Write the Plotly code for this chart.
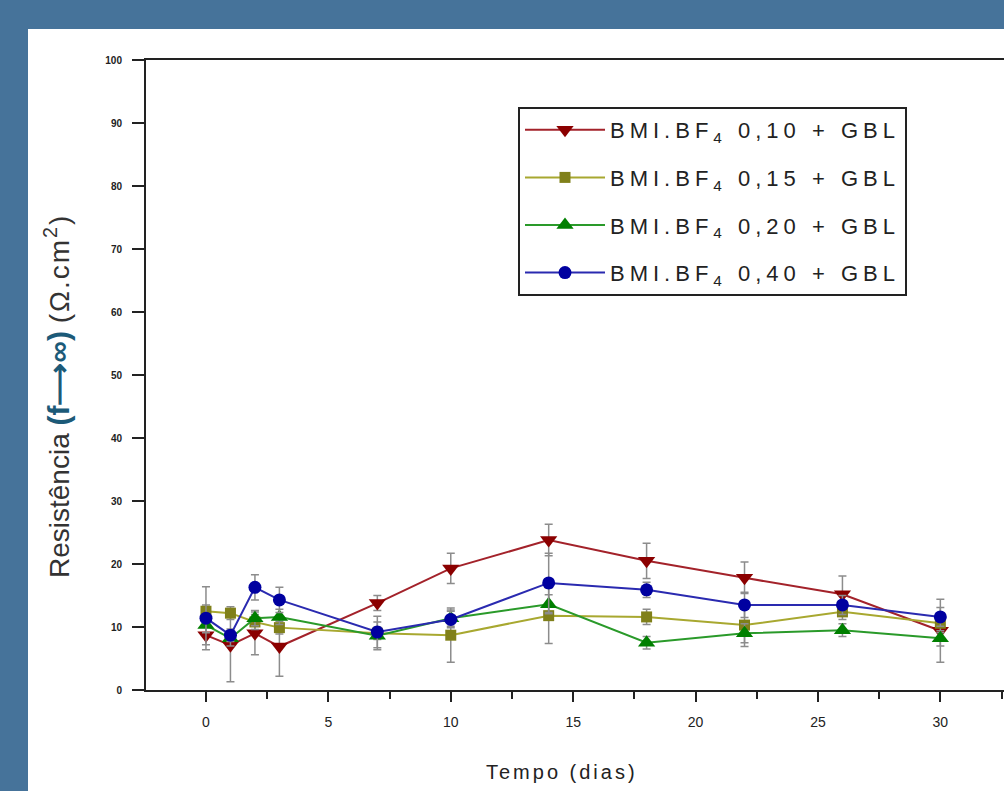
import plotly.graph_objects as go

days = [0, 1, 2, 3, 7, 10, 14, 18, 22, 26, 30]

r010 = [8.7, 7.1, 9.0, 6.9, 13.8, 19.3, 23.8, 20.5, 17.8, 15.2, 9.4]
r010_err = [1.5, 5.8, 3.4, 4.7, 1.2, 2.4, 2.5, 2.8, 2.5, 2.9, 5.0]

r015 = [12.5, 12.2, 10.8, 9.9, 9.0, 8.7, 11.8, 11.6, 10.3, 12.4, 10.6]
r015_err = [1.0, 1.0, 1.2, 1.0, 1.0, 4.3, 4.4, 1.2, 3.4, 1.2, 1.5]

r020 = [10.3, 8.2, 11.4, 11.6, 8.6, 11.4, 13.6, 7.5, 9.0, 9.5, 8.2]
r020_err = [1.2, 1.2, 1.2, 1.2, 2.2, 1.3, 1.5, 1.0, 1.5, 1.0, 1.2]

r040 = [11.4, 8.7, 16.3, 14.3, 9.2, 11.2, 17.0, 15.9, 13.5, 13.5, 11.6]
r040_err = [5.0, 1.0, 2.0, 2.0, 2.5, 1.3, 4.7, 1.2, 2.0, 1.5, 1.5]

names = [
    "BMI.BF<sub>4</sub> 0,10 + GBL",
    "BMI.BF<sub>4</sub> 0,15 + GBL",
    "BMI.BF<sub>4</sub> 0,20 + GBL",
    "BMI.BF<sub>4</sub> 0,40 + GBL",
]

x_title = "Tempo (dias)"
y_title = ('Resistência <b><span style="color:#1C5A78;font-size:30px">(f⟶∞)</span></b> '
           '<span style="letter-spacing:2px">(Ω.cm<sup>2</sup>)</span>')

series = [
    (r010, r010_err, "#A3222A", "#8B0000", "triangle-down", 15),
    (r015, r015_err, "#A8A830", "#80801A", "square", 11),
    (r020, r020_err, "#2A9A2A", "#007F00", "triangle-up", 15),
    (r040, r040_err, "#2A2AB0", "#0000A0", "circle", 13),
]

# plot area in pixels
L, R, T, B = 146, 1004, 60, 690
W, H = R - L, B - T

def px(x):
    return (x - L) / W

def py(y):
    return (B - y) / H

fig = go.Figure()
for i, (name, (vals, errs, lc, mc, sym, sz)) in enumerate(zip(names, series)):
    fig.add_trace(go.Scatter(
        x=days, y=vals, mode="lines+markers",
        name='<span style="letter-spacing:5px">' + name + "</span>",
        legendgroup="g%d" % i,
        line=dict(color=lc, width=2),
        marker=dict(symbol=sym, size=sz, color=mc, line=dict(width=0)),
        error_y=dict(type="data", array=errs, visible=True,
                     color="#8C8C8C", thickness=1.5, width=4),
    ))

fig.update_layout(
    width=1004, height=791,
    margin=dict(l=L, r=1004 - R, t=T, b=791 - B),
    paper_bgcolor="#46739A",
    plot_bgcolor="white",
    font=dict(family="Liberation Sans, Arial, sans-serif", color="#222"),
    shapes=[dict(type="rect", xref="paper", yref="paper",
                 x0=px(28), x1=1.01, y0=py(800), y1=py(29),
                 fillcolor="white", line=dict(width=0), layer="below")],
    annotations=[
        dict(text='<span style="letter-spacing:3px">' + x_title + "</span>",
             xref="paper", yref="paper", x=px(562), y=py(772),
             xanchor="center", yanchor="middle", showarrow=False,
             font=dict(size=20, color="#222")),
        dict(text=y_title, textangle=-90,
             xref="paper", yref="paper", x=px(57), y=py(396),
             xanchor="center", yanchor="middle", showarrow=False,
             font=dict(size=28, color="#333")),
    ],
    legend=dict(
        x=px(518), y=py(107),
        xanchor="left", yanchor="top",
        bgcolor="white", bordercolor="#222", borderwidth=2,
        font=dict(size=22, color="#222"),
        itemwidth=80, tracegroupgap=16,
    ),
    showlegend=True,
)

fig.update_xaxes(
    range=[-2.45, 32.6],
    tickvals=[0, 5, 10, 15, 20, 25, 30],
    ticks="outside", ticklen=10, tickwidth=2, tickcolor="#222",
    ticklabelstandoff=8,
    minor=dict(tickvals=[2.5, 7.5, 12.5, 17.5, 22.5, 27.5, 32.5],
               ticks="outside", ticklen=7, tickwidth=2, tickcolor="#222"),
    showline=True, linecolor="#222", linewidth=2, mirror=True,
    showgrid=False, zeroline=False,
    tickfont=dict(size=14, color="#222"),
)

fig.update_yaxes(
    range=[0, 100], dtick=10,
    ticks="outside", ticklen=12, tickwidth=2, tickcolor="#222",
    ticklabelstandoff=8,
    showline=True, linecolor="#222", linewidth=2, mirror=False,
    showgrid=False, zeroline=False,
    tickfont=dict(size=10, color="#222", weight="bold"),
)

fig.write_html("out.html")
